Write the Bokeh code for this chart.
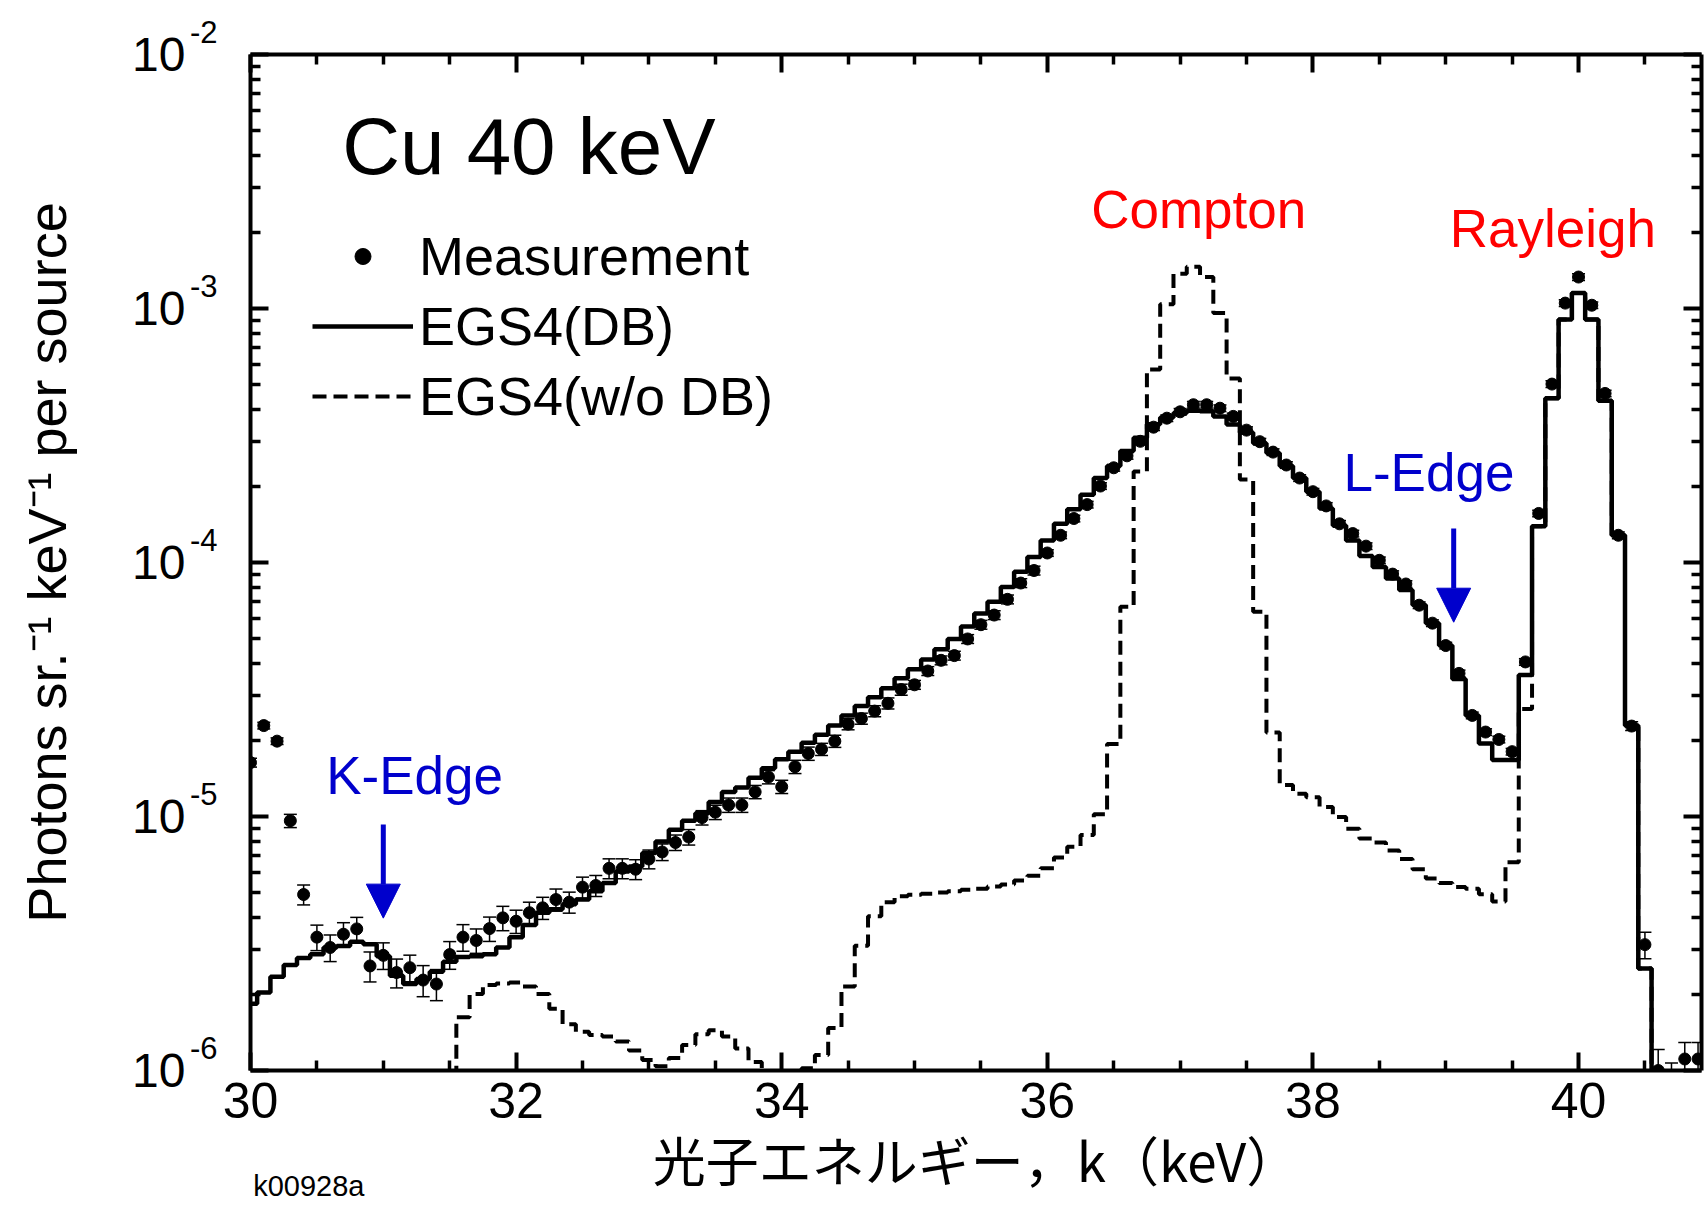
import math
from bokeh.plotting import figure
from bokeh.models import (Range1d, FixedTicker, LinearAxis, LogAxis, Label, Arrow,
                          NormalHead, CustomJSTickFormatter, Legend, LegendItem,
                          ColumnDataSource)
from bokeh.embed import file_html
from bokeh.resources import INLINE

# ---------------- data ----------------
energy = [30.0, 30.1, 30.2, 30.3, 30.4, 30.5, 30.6, 30.7, 30.8, 30.9,
          31.0, 31.1, 31.2, 31.3, 31.4, 31.5, 31.6, 31.7, 31.8, 31.9,
          32.0, 32.1, 32.2, 32.3, 32.4, 32.5, 32.6, 32.7, 32.8, 32.9,
          33.0, 33.1, 33.2, 33.3, 33.4, 33.5, 33.6, 33.7, 33.8, 33.9,
          34.0, 34.1, 34.2, 34.3, 34.4, 34.5, 34.6, 34.7, 34.8, 34.9,
          35.0, 35.1, 35.2, 35.3, 35.4, 35.5, 35.6, 35.7, 35.8, 35.9,
          36.0, 36.1, 36.2, 36.3, 36.4, 36.5, 36.6, 36.7, 36.8, 36.9,
          37.0, 37.1, 37.2, 37.3, 37.4, 37.5, 37.6, 37.7, 37.8, 37.9,
          38.0, 38.1, 38.2, 38.3, 38.4, 38.5, 38.6, 38.7, 38.8, 38.9,
          39.0, 39.1, 39.2, 39.3, 39.4, 39.5, 39.6, 39.7, 39.8, 39.9,
          40.0, 40.1, 40.2, 40.3, 40.4, 40.5, 40.6, 40.7, 40.8, 40.9]

measurement = [1.63e-5, 2.28e-5, 1.98e-5, 9.62e-6, 4.93e-6, 3.35e-6, 3.05e-6, 3.44e-6, 3.61e-6, 2.58e-6,
               2.84e-6, 2.43e-6, 2.54e-6, 2.27e-6, 2.19e-6, 2.86e-6, 3.35e-6, 3.25e-6, 3.62e-6, 3.99e-6,
               3.87e-6, 4.18e-6, 4.37e-6, 4.71e-6, 4.60e-6, 5.27e-6, 5.35e-6, 6.25e-6, 6.25e-6, 6.20e-6,
               6.80e-6, 7.25e-6, 7.90e-6, 8.30e-6, 9.90e-6, 1.04e-5, 1.11e-5, 1.11e-5, 1.25e-5, 1.43e-5,
               1.31e-5, 1.57e-5, 1.77e-5, 1.84e-5, 1.98e-5, 2.31e-5, 2.43e-5, 2.60e-5, 2.79e-5, 3.16e-5,
               3.30e-5, 3.74e-5, 4.12e-5, 4.30e-5, 5.00e-5, 5.69e-5, 6.21e-5, 7.16e-5, 8.30e-5, 9.30e-5,
               1.09e-4, 1.28e-4, 1.49e-4, 1.69e-4, 2.00e-4, 2.36e-4, 2.63e-4, 3.00e-4, 3.41e-4, 3.70e-4,
               3.92e-4, 4.18e-4, 4.18e-4, 4.05e-4, 3.76e-4, 3.32e-4, 2.99e-4, 2.72e-4, 2.42e-4, 2.15e-4,
               1.90e-4, 1.67e-4, 1.42e-4, 1.30e-4, 1.16e-4, 1.02e-4, 9.00e-5, 8.23e-5, 6.79e-5, 5.77e-5,
               4.71e-5, 3.66e-5, 2.50e-5, 2.15e-5, 2.01e-5, 1.80e-5, 4.06e-5, 1.56e-4, 5.04e-4, 1.05e-3,
               1.33e-3, 1.03e-3, 4.63e-4, 1.28e-4, 2.27e-5, 3.13e-6, 1.00e-6, 9.0e-7, 1.11e-6, 1.11e-6]

measurement_rel_err = [0.04, 0.03, 0.03, 0.06, 0.09, 0.115, 0.12, 0.11, 0.11, 0.135,
                       0.12, 0.13, 0.12, 0.14, 0.14, 0.125, 0.12, 0.11, 0.11, 0.11,
                       0.105, 0.10, 0.10, 0.10, 0.095, 0.095, 0.095, 0.09, 0.09, 0.09,
                       0.085, 0.075, 0.07, 0.07, 0.065, 0.065, 0.065, 0.065, 0.06, 0.06,
                       0.06, 0.06, 0.06, 0.055, 0.055, 0.05, 0.05, 0.05, 0.05, 0.05,
                       0.04, 0.04, 0.04, 0.04, 0.04, 0.04, 0.04, 0.04, 0.04, 0.04,
                       0.03, 0.03, 0.03, 0.03, 0.03, 0.03, 0.03, 0.03, 0.03, 0.03,
                       0.03, 0.03, 0.03, 0.03, 0.03, 0.03, 0.03, 0.03, 0.03, 0.03,
                       0.03, 0.03, 0.03, 0.03, 0.03, 0.03, 0.03, 0.03, 0.03, 0.03,
                       0.03, 0.03, 0.03, 0.03, 0.03, 0.03, 0.03, 0.03, 0.03, 0.03,
                       0.03, 0.03, 0.03, 0.03, 0.04, 0.12, 0.21, 0.19, 0.16, 0.16]

egs4_db = [1.83e-6, 2.03e-6, 2.34e-6, 2.60e-6, 2.77e-6, 2.87e-6, 3.05e-6, 3.09e-6, 3.21e-6, 3.14e-6,
           2.82e-6, 2.36e-6, 2.19e-6, 2.29e-6, 2.45e-6, 2.68e-6, 2.80e-6, 2.82e-6, 2.87e-6, 3.05e-6,
           3.35e-6, 3.74e-6, 4.18e-6, 4.31e-6, 4.51e-6, 4.71e-6, 5.08e-6, 5.47e-6, 6.08e-6, 6.36e-6,
           7.18e-6, 7.98e-6, 8.87e-6, 9.62e-6, 1.03e-5, 1.14e-5, 1.25e-5, 1.30e-5, 1.42e-5, 1.55e-5,
           1.68e-5, 1.80e-5, 1.95e-5, 2.10e-5, 2.28e-5, 2.50e-5, 2.72e-5, 2.95e-5, 3.20e-5, 3.50e-5,
           3.80e-5, 4.15e-5, 4.55e-5, 5.00e-5, 5.60e-5, 6.30e-5, 7.00e-5, 8.00e-5, 9.20e-5, 1.05e-4,
           1.22e-4, 1.42e-4, 1.62e-4, 1.85e-4, 2.15e-4, 2.40e-4, 2.75e-4, 3.10e-4, 3.50e-4, 3.72e-4,
           3.88e-4, 3.96e-4, 3.94e-4, 3.76e-4, 3.49e-4, 3.25e-4, 2.95e-4, 2.70e-4, 2.40e-4, 2.15e-4,
           1.90e-4, 1.63e-4, 1.40e-4, 1.22e-4, 1.06e-4, 9.60e-5, 8.65e-5, 7.80e-5, 6.80e-5, 5.77e-5,
           4.71e-5, 3.48e-5, 2.50e-5, 1.94e-5, 1.67e-5, 1.67e-5, 3.61e-5, 1.39e-4, 4.43e-4, 9.05e-4,
           1.15e-3, 9.05e-4, 4.33e-4, 1.28e-4, 2.28e-5, 2.52e-6, 5e-7, 5e-7, 5e-7, 5e-7]

egs4_wo_db = [5e-7, 5e-7, 5e-7, 5e-7, 5e-7, 5e-7, 5e-7, 5e-7, 5e-7, 5e-7,
              5e-7, 5e-7, 5e-7, 5e-7, 5e-7, 5e-7, 1.62e-6, 2.00e-6, 2.17e-6, 2.20e-6,
              2.22e-6, 2.14e-6, 2.00e-6, 1.75e-6, 1.52e-6, 1.42e-6, 1.38e-6, 1.36e-6, 1.30e-6, 1.20e-6,
              1.10e-6, 1.04e-6, 1.12e-6, 1.26e-6, 1.39e-6, 1.44e-6, 1.36e-6, 1.22e-6, 1.08e-6, 9.9e-7,
              8e-7, 9.9e-7, 1.02e-6, 1.15e-6, 1.47e-6, 2.14e-6, 3.10e-6, 4.05e-6, 4.60e-6, 4.85e-6,
              4.92e-6, 4.97e-6, 5.02e-6, 5.08e-6, 5.15e-6, 5.20e-6, 5.30e-6, 5.40e-6, 5.60e-6, 5.85e-6,
              6.25e-6, 6.90e-6, 7.60e-6, 8.45e-6, 1.02e-5, 1.93e-5, 6.70e-5, 2.28e-4, 5.75e-4, 1.04e-3,
              1.37e-3, 1.46e-3, 1.33e-3, 9.60e-4, 5.30e-4, 2.12e-4, 6.40e-5, 2.14e-5, 1.33e-5, 1.23e-5,
              1.19e-5, 1.09e-5, 9.95e-6, 8.95e-6, 8.20e-6, 7.90e-6, 7.35e-6, 6.80e-6, 6.20e-6, 5.70e-6,
              5.47e-6, 5.28e-6, 5.20e-6, 4.94e-6, 4.63e-6, 6.60e-6, 2.65e-5, 1.39e-4, 4.43e-4, 9.05e-4,
              1.15e-3, 9.05e-4, 4.33e-4, 1.28e-4, 2.28e-5, 2.52e-6, 5e-7, 5e-7, 5e-7, 5e-7]

x_major_ticks = [30, 32, 34, 36, 38, 40]
x_tick_labels = ["30", "32", "34", "36", "38", "40"]
x_minor_ticks = [30.5, 31, 31.5, 32.5, 33, 33.5, 34.5, 35, 35.5, 36.5,
                 37, 37.5, 38.5, 39, 39.5, 40.5]
y_major_ticks = [1e-6, 1e-5, 1e-4, 1e-3, 1e-2]
y_tick_base = ["10", "10", "10", "10", "10"]
y_tick_exponents = ["-6", "-5", "-4", "-3", "-2"]
y_minor_mantissas = [2, 3, 4, 5, 6, 7, 8, 9]
y_minor_ticks = [m * t for t in y_major_ticks[:-1] for m in y_minor_mantissas]

# ---------------- figure ----------------
FONT = "Liberation Sans"
BLUE = "#0000cc"
RED = "#ff0000"
BL = 0.36  # baseline correction (fraction of font size) for alphabetic labels
FRAME_H = 1208 - 51 - 138          # frame height in px
EXP_RAISE_PX = 23                  # exponent raised above its tick
exp_shift = 10 ** (-EXP_RAISE_PX * 4 / FRAME_H)

p = figure(width=1704, height=1208, x_range=Range1d(30, 40.926),
           y_range=Range1d(1e-6, 1e-2), y_axis_type="log",
           output_backend="svg", toolbar_location=None,
           min_border_left=250, min_border_right=3, min_border_top=51,
           min_border_bottom=138)
p.outline_line_color = None
p.grid.visible = False
p.background_fill_color = "white"
p.border_fill_color = "white"
p.extra_y_ranges = {"exp": Range1d(1e-6 * exp_shift, 1e-2 * exp_shift)}

blank = CustomJSTickFormatter(code="return '';")


def style_axis(ax, ticker):
    ax.ticker = ticker
    ax.axis_line_width = 4
    ax.axis_line_color = "black"
    ax.major_tick_line_width = 4
    ax.minor_tick_line_width = 3.5
    ax.major_tick_in = 18
    ax.major_tick_out = 0
    ax.minor_tick_in = 10
    ax.minor_tick_out = 0


def label_only_axis(ax, labels, size, standoff):
    ax.ticker = FixedTicker(ticks=y_major_ticks, minor_ticks=[])
    ax.major_label_overrides = {t: s for t, s in zip(y_major_ticks, labels)}
    ax.axis_line_color = None
    ax.major_tick_line_color = None
    ax.minor_tick_line_color = None
    ax.major_tick_in = 0
    ax.major_tick_out = 0
    ax.minor_tick_in = 0
    ax.minor_tick_out = 0
    ax.major_label_standoff = standoff
    ax.major_label_text_font = FONT
    ax.major_label_text_font_size = size
    ax.major_label_text_color = "black"


xticker = FixedTicker(ticks=x_major_ticks, minor_ticks=x_minor_ticks)
yticker = FixedTicker(ticks=y_major_ticks, minor_ticks=y_minor_ticks)

xb = p.xaxis[0]
style_axis(xb, xticker)
xb.major_label_overrides = {t: s for t, s in zip(x_major_ticks, x_tick_labels)}
xb.major_label_text_font = FONT
xb.major_label_text_font_size = "50px"
xb.major_label_text_color = "black"
xb.major_label_standoff = 12
xb.axis_label = "光子エネルギー，k（keV）"
xb.axis_label_text_font = "Noto Sans CJK JP"
xb.axis_label_text_font_size = "53px"
xb.axis_label_text_font_style = "normal"
xb.axis_label_text_color = "black"
xb.axis_label_standoff = 0

yl = p.yaxis[0]
style_axis(yl, yticker)
yl.formatter = blank
yl.major_label_standoff = 0

# exponent labels (raised) and mantissa labels "10", each on a label-only axis
yexp = LogAxis(y_range_name="exp")
label_only_axis(yexp, y_tick_exponents, "31px", 33)
p.add_layout(yexp, "left")

yten = LogAxis()
label_only_axis(yten, y_tick_base, "48px", 1)
yten.axis_label = "Photons sr.⁻¹ keV⁻¹ per source"
yten.axis_label_text_font = FONT
yten.axis_label_text_font_size = "54px"
yten.axis_label_text_font_style = "normal"
yten.axis_label_text_color = "black"
yten.axis_label_standoff = 52
p.add_layout(yten, "left")

xt = LinearAxis(formatter=blank, major_label_standoff=0)
style_axis(xt, xticker)
p.add_layout(xt, "above")

yr = LogAxis(formatter=blank, major_label_standoff=0)
style_axis(yr, yticker)
p.add_layout(yr, "right")

# ---------------- data glyphs ----------------
src = ColumnDataSource(dict(
    x=energy, meas=measurement, db=egs4_db, wodb=egs4_wo_db,
    hi=[v * (1 + e) for v, e in zip(measurement, measurement_rel_err)],
    lo=[v * (1 - e) for v, e in zip(measurement, measurement_rel_err)],
))

r_wo = p.step("x", "wodb", source=src, mode="center", line_color="black",
              line_width=4, line_dash="14 7")
r_db = p.step("x", "db", source=src, mode="center", line_color="black",
              line_width=4.5)
p.segment(x0="x", y0="lo", x1="x", y1="hi", source=src, line_color="black",
          line_width=1.5)
p.scatter("x", "hi", source=src, marker="dash", size=13, line_color="black",
          line_width=1.5)
p.scatter("x", "lo", source=src, marker="dash", size=13, line_color="black",
          line_width=1.5)
r_meas = p.scatter("x", "meas", source=src, marker="circle", size=12,
                   fill_color="black", line_color="black")

legend = Legend(items=[LegendItem(label="Measurement", renderers=[r_meas]),
                       LegendItem(label="EGS4(DB)", renderers=[r_db]),
                       LegendItem(label="EGS4(w/o DB)", renderers=[r_wo])],
                location=(62, 643), glyph_width=101, glyph_height=40,
                label_height=40, label_standoff=6, spacing=8, padding=0,
                margin=0, border_line_color=None, background_fill_alpha=0,
                label_text_font=FONT, label_text_font_size="54px",
                label_text_color="black")
p.add_layout(legend)


def make_label(**kw):
    size = float(kw["text_font_size"].replace("px", ""))
    kw.setdefault("text_baseline", "alphabetic")
    kw.setdefault("text_color", "black")
    kw.setdefault("text_font", FONT)
    if kw["text_baseline"] == "alphabetic":
        kw["y_offset"] = kw.get("y_offset", 0) + BL * size
    return Label(**kw)


# ---------------- annotations ----------------
p.add_layout(make_label(x=30.69, y=3.33e-3, text="Cu 40 keV", text_font_size="80px"))
p.add_layout(make_label(x=36.33, y=2.06e-3, text="Compton", text_font_size="53px",
                        text_color=RED))
p.add_layout(make_label(x=39.03, y=1.73e-3, text="Rayleigh", text_font_size="53px",
                        text_color=RED))
p.add_layout(make_label(x=30.57, y=1.22e-5, text="K-Edge", text_font_size="53px",
                        text_color=BLUE))
p.add_layout(make_label(x=38.23, y=1.9e-4, text="L-Edge", text_font_size="53px",
                        text_color=BLUE))
# texts outside the frame live in a side panel so they are not clipped to the frame
p.add_layout(make_label(x=30.02, y=3.2e-7, text="k00928a", text_font_size="29px",
                        text_line_height=0.5),
             "above")
# exponent of the top decade sits above the frame, beyond the axis range
p.add_layout(make_label(x=30, y=y_major_ticks[-1], x_offset=-33, y_offset=EXP_RAISE_PX,
                        text=y_tick_exponents[-1], text_align="right",
                        text_baseline="middle", text_font_size="31px",
                        text_line_height=0.5),
             "above")

p.add_layout(Arrow(x_start=31.0, y_start=9.3e-6, x_end=31.0, y_end=3.98e-6,
                   line_color=BLUE, line_width=5,
                   end=NormalHead(size=34, fill_color=BLUE, line_color=BLUE)))
p.add_layout(Arrow(x_start=39.06, y_start=1.36e-4, x_end=39.06, y_end=5.82e-5,
                   line_color=BLUE, line_width=5,
                   end=NormalHead(size=34, fill_color=BLUE, line_color=BLUE)))

open("out.html", "w").write(file_html(p, INLINE))
